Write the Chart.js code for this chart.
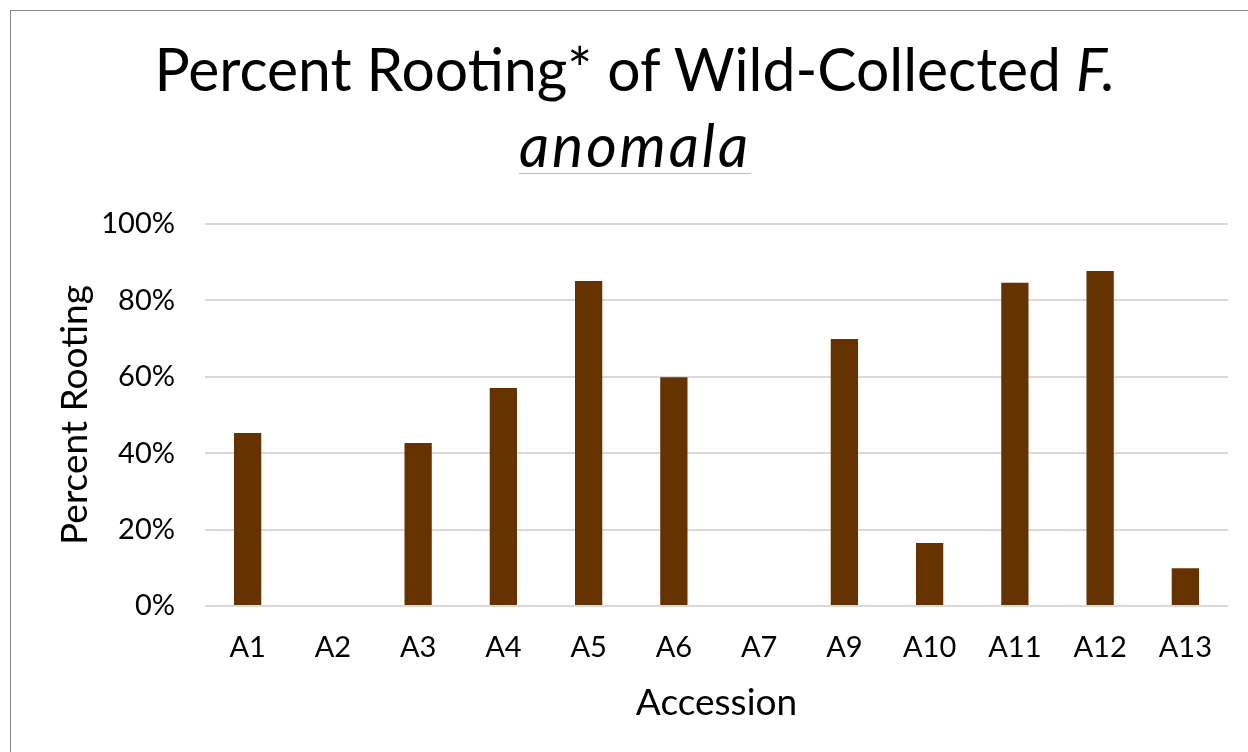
<!DOCTYPE html>
<html>
<head>
<meta charset="utf-8">
<script src="https://cdn.jsdelivr.net/npm/chart.js@4.4.1/dist/chart.umd.min.js"></script>
<style>
  html, body { margin: 0; padding: 0; background: #fff; }
  body { width: 1248px; height: 752px; position: relative; overflow: hidden; }
  #frame { position: absolute; left: 10px; top: 10px; width: 1300px; height: 800px;
           border: 1.5px solid #8a8a8a; box-sizing: border-box; }
  #wrap { position: absolute; left: 0; top: 0; width: 1248px; height: 752px; }
  #title { position: absolute; left: 0; top: 30px; width: 1270px; text-align: center;
           font-family: Lato, sans-serif; font-size: 60px; line-height: 76px; color: #000;
           transform: scaleX(0.98); transform-origin: 635px 0; }
  #title .sp { letter-spacing: 3px; text-decoration: underline; text-decoration-color: #f4a0a0;
               text-decoration-thickness: 1px; text-underline-offset: 6px; }
</style>
</head>
<body>
<div id="frame"></div>
<div id="wrap"><canvas id="rootingChart" width="1248" height="752"></canvas></div>
<div id="title">Percent Rooting* of Wild-Collected <i>F.</i><br><i class="sp">anomala</i></div>
<script>
const accessions = ['A1', 'A2', 'A3', 'A4', 'A5', 'A6', 'A7', 'A9', 'A10', 'A11', 'A12', 'A13'];
const rootingPct = [45.3, 0, 42.7, 57.1, 85.1, 59.9, 0, 69.9, 16.5, 84.6, 87.7, 9.9];
const yTicks = [0, 20, 40, 60, 80, 100];

document.addEventListener('DOMContentLoaded', function () {
    const ctx = document.getElementById('rootingChart').getContext('2d');
    const tickFont = { family: 'Lato', size: 29 };
    new Chart(ctx, {
        type: 'bar',
        data: {
            labels: accessions,
            datasets: [{
                label: 'Percent Rooting',
                data: rootingPct,
                backgroundColor: '#663300',
                borderWidth: 0,
                barPercentage: 0.64,
                categoryPercentage: 0.5
            }]
        },
        options: {
            responsive: false,
            animation: false,
            layout: { padding: { left: 53, right: 20, top: 224, bottom: 27 } },
            plugins: {
                legend: { display: false },
                title: { display: false },
                tooltip: { enabled: false }
            },
            scales: {
                x: {
                    grid: { display: false, drawTicks: false },
                    border: { display: false },
                    ticks: { color: '#000', font: tickFont, padding: 24 },
                    title: { display: true, text: 'Accession', color: '#000',
                             font: { family: 'Lato', size: 37 }, padding: 0 },
                    afterFit: function (scale) { scale.height = 119; }
                },
                y: {
                    min: 0,
                    max: 100,
                    afterBuildTicks: function (scale) {
                        scale.ticks = yTicks.map(v => ({ value: v }));
                    },
                    grid: { color: '#d9d9d9', lineWidth: 2, drawTicks: false },
                    border: { display: false },
                    ticks: { color: '#000', font: tickFont, padding: 30,
                             callback: v => v + '%' },
                    title: { display: true, text: 'Percent Rooting', color: '#000',
                             font: { family: 'Lato', size: 37 }, padding: 0 },
                    afterFit: function (scale) { scale.width = 152; }
                }
            }
        }
    });
});
</script>
</body>
</html>
